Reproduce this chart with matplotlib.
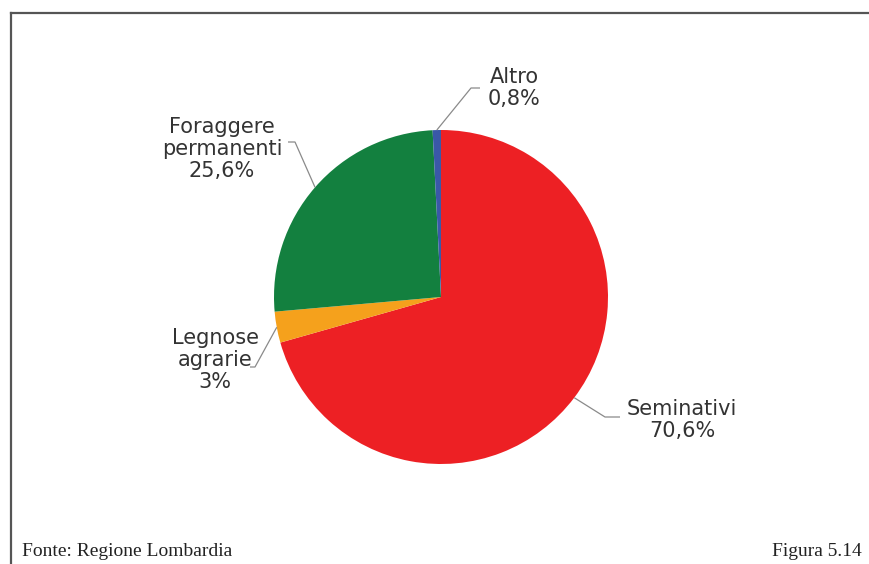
import numpy as np
import matplotlib.pyplot as plt

# Ripartizione della superficie agricola utilizzata
categories = ["Seminativi", "Legnose\nagrarie", "Foraggere\npermanenti", "Altro"]
shares = [70.6, 3.0, 25.6, 0.8]
share_labels = ["70,6%", "3%", "25,6%", "0,8%"]
colors = ["#ED2024", "#F5A11C", "#13803F", "#3A58A8"]

W, H = 869, 564
fig = plt.figure(figsize=(W / 100, H / 100), dpi=100)
ax = fig.add_axes([0, 0, 1, 1])

cx, cy, r = 441, H - 297, 167
wedges, _ = ax.pie(shares, colors=colors, startangle=90, counterclock=False,
                   center=(cx, cy), radius=r,
                   wedgeprops=dict(linewidth=0))
ax.set_xlim(0, W)
ax.set_ylim(0, H)
ax.set_aspect("equal")
ax.axis("off")

# label position, elbow of the leader line, end of the horizontal stub
layout = [
    dict(text=(682, 420), elbow=(605, 417), stub=(620, 417)),
    dict(text=(215, 360), elbow=(255, 367), stub=(250, 367)),
    dict(text=(222, 149), elbow=(295, 142), stub=(288, 142)),
    dict(text=(514, 88), elbow=(471, 88), stub=(480, 88)),
]

for w, name, pct, lay in zip(wedges, categories, share_labels, layout):
    mid = np.deg2rad((w.theta1 + w.theta2) / 2)
    ex, ey = cx + r * np.cos(mid), cy + r * np.sin(mid)
    bx, by = lay["elbow"]
    sx, sy = lay["stub"]
    ax.plot([ex, bx, sx], [ey, H - by, H - sy], color="#8a8a8a", lw=0.9,
            solid_capstyle="butt")
    tx, ty = lay["text"]
    ax.text(tx, H - ty, f"{name}\n{pct}", ha="center", va="center",
            fontsize=15, color="#333333", linespacing=1.12,
            family="DejaVu Sans")

# frame lines top and left
ax.plot([11, W], [H - 13, H - 13], color="#555555", lw=1.6, clip_on=False)
ax.plot([11, 11], [H - 13, 0], color="#555555", lw=1.6, clip_on=False)

ax.text(22, H - 556, "Fonte: Regione Lombardia", ha="left", va="baseline",
        fontsize=14, family="Liberation Serif", color="#222222")
ax.text(862, H - 556, "Figura 5.14", ha="right", va="baseline",
        fontsize=14, family="Liberation Serif", color="#222222")

fig.savefig("out.png", dpi=100)
